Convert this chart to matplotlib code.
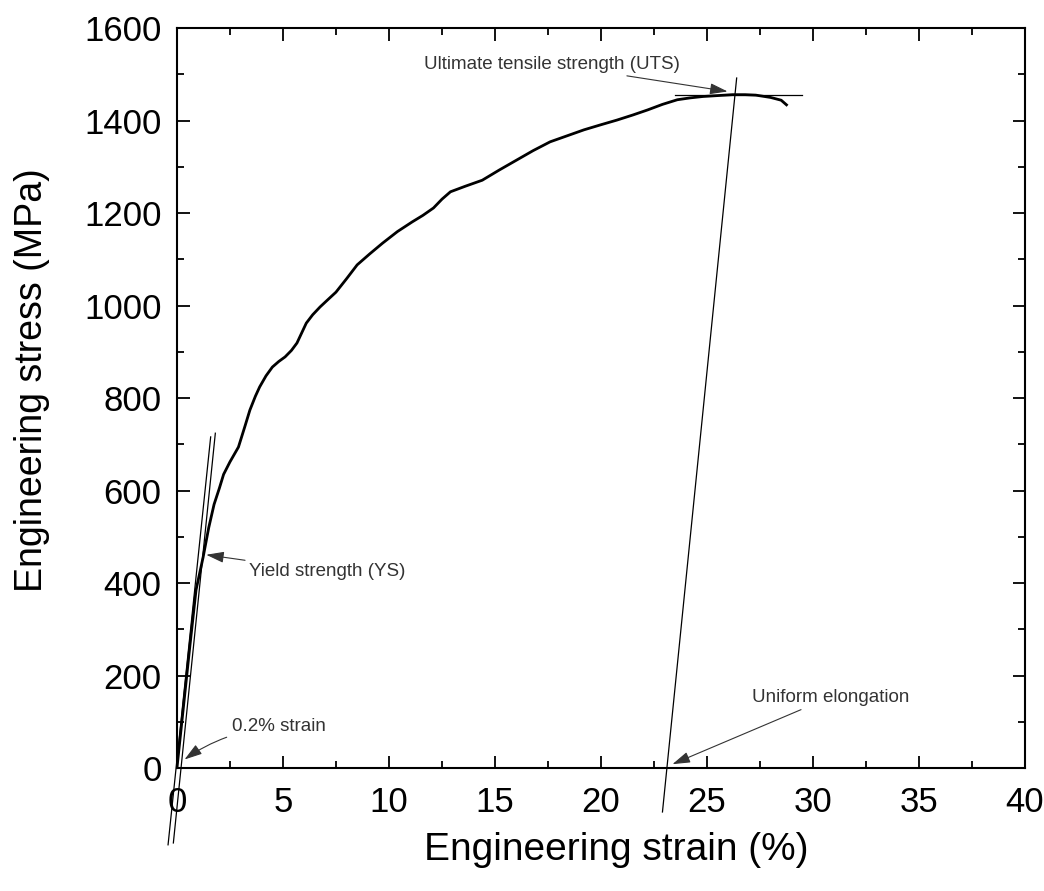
import matplotlib
matplotlib.use("Agg")
import matplotlib.pyplot as plt
import numpy as np
from matplotlib.ticker import MultipleLocator

plt.rcParams['font.family'] = ['Liberation Sans', 'DejaVu Sans']

# engineering stress-strain curve
strain = [0, 0.3, 0.6, 0.9, 1.23, 1.5, 1.75, 2.0, 2.2, 2.5, 2.9, 3.2, 3.44, 3.7, 3.9,
          4.2, 4.5, 4.8, 5.1, 5.4, 5.66, 6.1, 6.4, 6.75, 7.1, 7.5, 8.0, 8.5, 9.1,
          9.7, 10.4, 11.1, 11.6, 12.1, 12.5, 12.9, 13.6, 14.4, 15.2, 16.0, 16.8,
          17.6, 18.4, 19.2, 20.0, 20.75, 21.5, 22.2, 22.9, 23.6, 24.2, 24.8, 25.5,
          26.2, 26.8, 27.3, 28.0, 28.5, 28.75]
stress = [0, 130, 260, 385, 455, 520, 570, 605, 635, 662, 694, 738, 774, 804, 824,
          848, 867, 879, 889, 903, 919, 962, 980, 997, 1012, 1029, 1058, 1088, 1112,
          1135, 1160, 1181, 1195, 1211, 1230, 1246, 1258, 1271, 1293, 1314, 1335,
          1354, 1367, 1380, 1391, 1401, 1412, 1423, 1435, 1445, 1449, 1452, 1454,
          1456, 1456, 1455, 1450, 1444, 1434]

# construction lines
elastic_x = [-0.42, 1.59]
elastic_y = [-166, 716]
offset_x = [-0.17, 1.81]
offset_y = [-162, 724]
uniform_x = [22.9, 26.4]
uniform_y = [-95, 1492]
uts_x = [23.5, 29.5]
uts_y = [1455, 1455]

fig = plt.figure(figsize=(10.44, 8.91), dpi=100)
ax = fig.add_axes([0.1695, 0.138, 0.8123, 0.8305])

ax.plot(strain, stress, color='black', lw=2.0, zorder=3)
for xs, ys in [(elastic_x, elastic_y), (offset_x, offset_y),
               (uniform_x, uniform_y), (uts_x, uts_y)]:
    ax.plot(xs, ys, color='black', lw=0.9, clip_on=False)

ax.set_xlim(0, 40)
ax.set_ylim(0, 1600)
ax.xaxis.set_major_locator(MultipleLocator(5))
ax.xaxis.set_minor_locator(MultipleLocator(2.5))
ax.yaxis.set_major_locator(MultipleLocator(200))
ax.yaxis.set_minor_locator(MultipleLocator(100))
ax.tick_params(which='both', direction='in', top=True, right=True, width=1.3,
               labelsize=25)
ax.tick_params(axis='x', which='major', pad=13)
ax.tick_params(axis='y', which='major', pad=11)
ax.tick_params(which='major', length=9)
ax.tick_params(which='minor', length=5)
for s in ax.spines.values():
    s.set_linewidth(1.5)

ax.set_xlabel('Engineering strain (%)', fontsize=28)
ax.set_ylabel('Engineering stress (MPa)', fontsize=27)
ax.xaxis.set_label_coords(0.518, -0.086)
ax.yaxis.set_label_coords(-0.150, 0.524)

arrow = dict(arrowstyle='-|>,head_length=0.8,head_width=0.25', color='#333333', lw=0.8)
txt = dict(fontsize=13.5, color='#333333', va='center')
ax.annotate('Ultimate tensile strength (UTS)', xy=(26.1, 1462), xytext=(23.7, 1522),
            ha='right', arrowprops=arrow, **txt)
ax.annotate('Yield strength (YS)', xy=(1.25, 462), xytext=(3.4, 424),
            ha='left', arrowprops=dict(arrow, shrinkA=2), **txt)
ax.annotate('0.2% strain', xy=(0.25, 15), xytext=(2.6, 89), ha='left',
            arrowprops=dict(arrow, shrinkA=2, connectionstyle='arc3,rad=0.15'), **txt)
ax.annotate('Uniform elongation', xy=(23.25, 6), xytext=(27.1, 153), ha='left',
            arrowprops=dict(arrow, shrinkA=2), **txt)

fig.savefig('out.png', dpi=100)
